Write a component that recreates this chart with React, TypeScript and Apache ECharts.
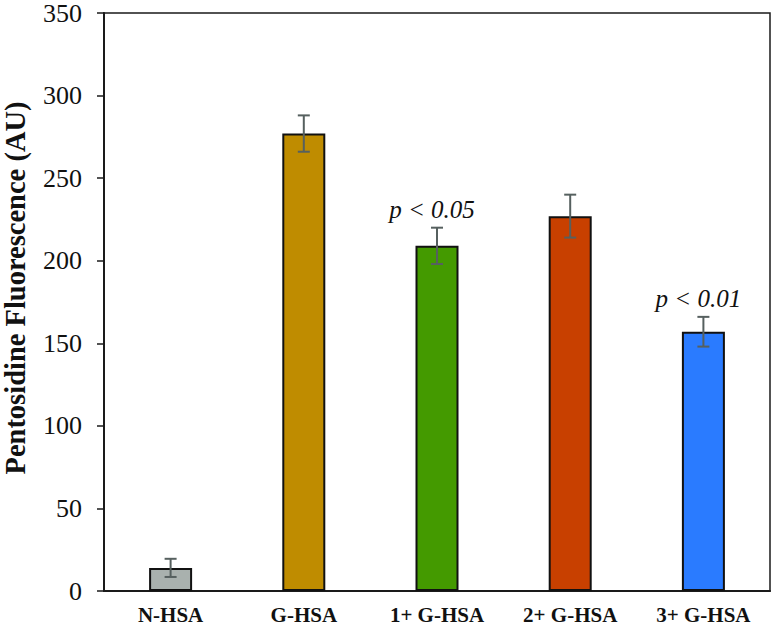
import { useEffect, useRef } from 'react';
import * as echarts from 'echarts';

const categories = ['N-HSA', 'G-HSA', '1+ G-HSA', '2+ G-HSA', '3+ G-HSA'];
const values = [14, 277, 209, 227, 157];
const errors = [5.5, 11, 11, 13, 9];
const barColors = ['#a9b1ae', '#bf8c00', '#449a00', '#c84000', '#2a7bff'];
const pLabels = ['', '', 'p < 0.05', '', 'p < 0.01'];
const yTicks = [0, 50, 100, 150, 200, 250, 300, 350];

const serif = 'Liberation Serif, Times New Roman, Times, serif';

export default function PentosidineChart() {
  const chartRef = useRef<HTMLDivElement>(null);

  useEffect(() => {
    if (!chartRef.current) return;
    const chart = echarts.init(chartRef.current, null, { renderer: 'svg' });

    const option: echarts.EChartsOption = {
      animation: false,
      backgroundColor: '#ffffff',
      grid: {
        left: 104,
        right: 3,
        top: 9,
        bottom: 37,
        show: true,
        borderColor: '#1a1a1a',
        borderWidth: 1.5,
        backgroundColor: 'transparent',
      },
      xAxis: {
        type: 'category',
        data: categories,
        boundaryGap: true,
        axisLine: { lineStyle: { color: '#1a1a1a', width: 2 } },
        axisTick: { show: false },
        axisLabel: {
          color: '#111',
          fontFamily: serif,
          fontWeight: 'bold',
          fontSize: 21,
          margin: 13,
        },
      },
      yAxis: {
        type: 'value',
        min: yTicks[0],
        max: yTicks[yTicks.length - 1],
        interval: 50,
        axisLine: { show: true, lineStyle: { color: '#1a1a1a', width: 2 } },
        axisTick: { show: true, inside: false, length: 7, lineStyle: { color: '#1a1a1a', width: 1.5 } },
        splitLine: { show: false },
        axisLabel: {
          color: '#111',
          fontFamily: serif,
          fontSize: 26,
          margin: 22,
        },
      },
      graphic: [
        {
          type: 'text',
          x: 15,
          y: 288,
          rotation: Math.PI / 2,
          style: {
            text: 'Pentosidine Fluorescence (AU)',
            fontFamily: serif,
            fontWeight: 'bold',
            fontSize: 28.5,
            fill: '#111',
            align: 'center',
            verticalAlign: 'middle',
          },
        },
      ],
      series: [
        {
          type: 'bar',
          barWidth: 43,
          data: values.map((v, i) => ({
            value: v,
            itemStyle: { color: barColors[i] },
          })),
          itemStyle: { borderColor: '#111', borderWidth: 2 },
          z: 2,
        },
        {
          type: 'custom',
          z: 5,
          data: values.map((v, i) => [i, v, errors[i]]),
          renderItem: (params: any, api: any) => {
            const idx = api.value(0);
            const v = api.value(1);
            const e = api.value(2);
            const top = api.coord([idx, v + e]);
            const bottom = api.coord([idx, v - e]);
            const half = 6;
            const style = { stroke: '#56605f', lineWidth: 2 };
            const children: any[] = [
              { type: 'line', shape: { x1: top[0], y1: top[1], x2: bottom[0], y2: bottom[1] }, style },
              { type: 'line', shape: { x1: top[0] - half, y1: top[1], x2: top[0] + half, y2: top[1] }, style },
              { type: 'line', shape: { x1: bottom[0] - half, y1: bottom[1], x2: bottom[0] + half, y2: bottom[1] }, style },
            ];
            const label = pLabels[params.dataIndex];
            if (label) {
              children.push({
                type: 'text',
                x: top[0] - 5,
                y: top[1] - 18,
                style: {
                  text: label,
                  fontFamily: serif,
                  fontStyle: 'italic',
                  fontSize: 25,
                  fill: '#111',
                  align: 'center',
                  verticalAlign: 'middle',
                },
              });
            }
            return { type: 'group', children };
          },
        },
      ],
    };

    chart.setOption(option);

    return () => {
      chart.dispose();
    };
  }, []);

  return <div ref={chartRef} style={{ width: 773, height: 628, position: 'fixed', left: 0, top: 0 }} />;
}
